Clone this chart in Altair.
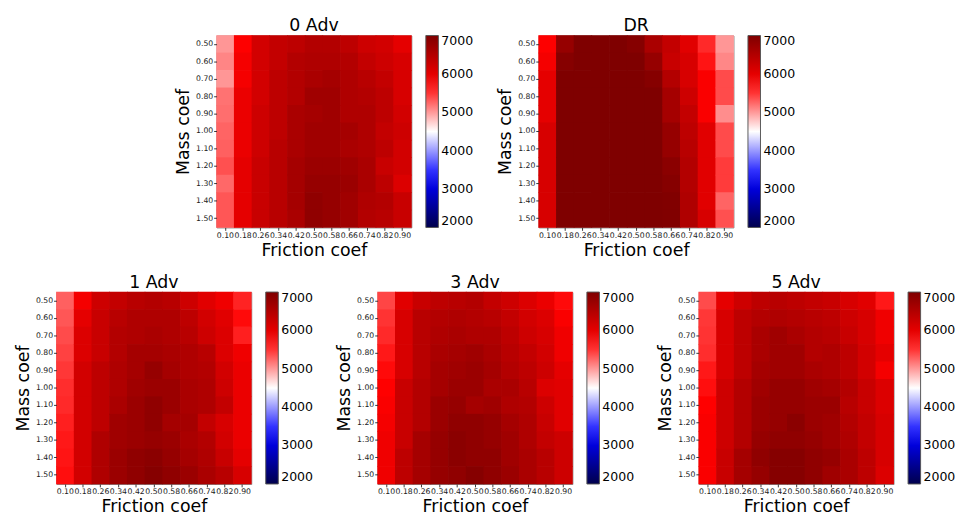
import altair as alt
import pandas as pd

friction = ["0.10", "0.18", "0.26", "0.34", "0.42", "0.50", "0.58", "0.66", "0.74", "0.82", "0.90"]
mass = ["0.50", "0.60", "0.70", "0.80", "0.90", "1.00", "1.10", "1.20", "1.30", "1.40", "1.50"]

# each inner list = one friction column, values from mass 0.50 (top) to 1.50 (bottom)
adv0 = [
    [5015, 5100, 5015, 5190, 5210, 5260, 5280, 5360, 5240, 5330, 5330],
    [5760, 5850, 5850, 5950, 5950, 5950, 5950, 6000, 6000, 6000, 6000],
    [6190, 6190, 6190, 6190, 6240, 6240, 6240, 6290, 6290, 6290, 6290],
    [6340, 6340, 6390, 6390, 6390, 6390, 6440, 6440, 6440, 6440, 6440],
    [6390, 6490, 6490, 6490, 6580, 6580, 6580, 6630, 6630, 6630, 6580],
    [6490, 6530, 6580, 6680, 6630, 6680, 6680, 6730, 6780, 6830, 6830],
    [6490, 6530, 6630, 6680, 6680, 6680, 6680, 6730, 6780, 6780, 6780],
    [6390, 6490, 6530, 6530, 6530, 6630, 6580, 6680, 6730, 6680, 6680],
    [6240, 6340, 6440, 6490, 6530, 6530, 6530, 6580, 6580, 6530, 6490],
    [6190, 6240, 6340, 6390, 6390, 6340, 6390, 6290, 6390, 6490, 6440],
    [6000, 6140, 6140, 6140, 6190, 6240, 6190, 6190, 6090, 6290, 6290],
]
dr = [
    [5760, 5850, 6000, 6000, 6000, 6140, 6140, 6140, 6140, 6140, 6140],
    [6780, 6930, 7000, 7000, 7000, 7000, 7000, 7000, 7000, 7000, 7000],
    [7000, 7000, 7000, 7000, 7000, 7000, 7000, 7000, 7000, 7000, 7000],
    [7000, 7000, 7000, 7000, 7000, 7000, 7000, 7000, 7000, 7000, 7000],
    [7000, 7000, 7000, 7000, 7000, 7000, 7000, 7000, 7000, 7000, 7000],
    [6930, 7000, 7000, 7000, 7000, 7000, 7000, 7000, 7000, 7000, 7000],
    [6580, 6780, 6930, 7000, 7000, 7000, 7000, 7000, 7000, 7000, 7000],
    [6340, 6290, 6490, 6630, 6630, 6780, 6780, 6880, 6930, 6980, 6980],
    [6040, 6140, 6140, 6240, 6340, 6390, 6440, 6490, 6490, 6530, 6530],
    [5550, 5650, 5800, 5800, 5800, 6040, 6040, 6040, 6040, 6040, 6140],
    [5015, 5090, 5380, 5380, 5060, 5380, 5380, 5460, 5460, 5260, 5360],
]
adv1 = [
    [5280, 5330, 5380, 5430, 5480, 5530, 5550, 5600, 5630, 5650, 5680],
    [5850, 6000, 6090, 6090, 6190, 6190, 6190, 6190, 6190, 6190, 6190],
    [6240, 6290, 6290, 6290, 6390, 6390, 6390, 6390, 6530, 6530, 6530],
    [6340, 6440, 6490, 6490, 6530, 6530, 6580, 6680, 6680, 6730, 6730],
    [6440, 6530, 6530, 6630, 6630, 6680, 6730, 6730, 6730, 6830, 6830],
    [6490, 6530, 6580, 6630, 6780, 6730, 6830, 6830, 6780, 6880, 6930],
    [6440, 6530, 6530, 6580, 6630, 6730, 6730, 6630, 6730, 6780, 6830],
    [6240, 6390, 6440, 6530, 6530, 6580, 6580, 6630, 6580, 6630, 6730],
    [6040, 6190, 6240, 6440, 6490, 6530, 6530, 6340, 6490, 6530, 6580],
    [5900, 6040, 6090, 6090, 6190, 6240, 6340, 6140, 6190, 6290, 6440],
    [5580, 5700, 5600, 5900, 5950, 5950, 5950, 5950, 5950, 6000, 6140],
]
adv3 = [
    [5410, 5500, 5550, 5630, 5700, 5750, 5800, 5850, 5900, 5900, 5900],
    [6040, 6140, 6140, 6140, 6140, 6290, 6290, 6290, 6290, 6390, 6390],
    [6290, 6440, 6440, 6440, 6440, 6490, 6490, 6490, 6630, 6630, 6630],
    [6390, 6490, 6530, 6580, 6630, 6630, 6730, 6730, 6780, 6780, 6780],
    [6440, 6530, 6580, 6630, 6680, 6730, 6780, 6830, 6880, 6880, 6830],
    [6490, 6490, 6530, 6680, 6730, 6730, 6630, 6830, 6830, 6830, 6930],
    [6340, 6440, 6530, 6580, 6630, 6580, 6680, 6780, 6780, 6830, 6830],
    [6240, 6340, 6390, 6440, 6490, 6580, 6530, 6630, 6680, 6680, 6730],
    [6090, 6190, 6240, 6340, 6390, 6440, 6490, 6530, 6530, 6580, 6580],
    [5950, 6090, 6140, 6190, 6240, 6090, 6240, 6290, 6340, 6440, 6440],
    [5700, 5800, 5900, 5900, 6000, 6040, 6040, 6040, 6240, 6240, 6240],
]
adv5 = [
    [5380, 5480, 5500, 5530, 5630, 5680, 5750, 5800, 5800, 5800, 5800],
    [6000, 6140, 6140, 6140, 6140, 6240, 6240, 6240, 6240, 6290, 6290],
    [6240, 6390, 6390, 6390, 6390, 6490, 6490, 6490, 6490, 6630, 6630],
    [6390, 6490, 6580, 6580, 6630, 6680, 6730, 6730, 6780, 6830, 6780],
    [6440, 6530, 6680, 6680, 6680, 6780, 6780, 6780, 6830, 6930, 6930],
    [6390, 6490, 6580, 6680, 6680, 6780, 6780, 6880, 6830, 6930, 6930],
    [6340, 6440, 6490, 6490, 6580, 6680, 6730, 6730, 6780, 6830, 6830],
    [6290, 6390, 6440, 6530, 6530, 6630, 6730, 6680, 6680, 6780, 6680],
    [6140, 6240, 6290, 6390, 6390, 6490, 6440, 6490, 6530, 6580, 6580],
    [6040, 6140, 6140, 6190, 6190, 6290, 6290, 6340, 6340, 6390, 6390],
    [5630, 5900, 5900, 6000, 5850, 6090, 6090, 6140, 6140, 6140, 6090],
]

cbar_ticks = [2000, 3000, 4000, 5000, 6000, 7000]
# matplotlib "seismic" colormap anchors
seis_domain = [2000, 3250, 4500, 5750, 7000]
seis_range = ["#00004c", "#0000ff", "#ffffff", "#ff0000", "#7f0000"]

FONT = "DejaVu Sans"


def panel(title, cols):
    rows = []
    for i, f in enumerate(friction):
        for j, m in enumerate(mass):
            rows.append({"friction": f, "mass": m, "value": cols[i][j]})
    df = pd.DataFrame(rows)
    scale = alt.Scale(domain=seis_domain, range=seis_range, interpolate="rgb")
    return (
        alt.Chart(df, title=alt.Title(title, fontSize=18, fontWeight="normal", font=FONT,
                                      offset=0, anchor="middle", color="black"))
        .mark_rect(width=alt.RelativeBandSize(1.04), height=alt.RelativeBandSize(1.04))
        .encode(
            x=alt.X("friction:O", sort=friction, title="Friction coef",
                    scale=alt.Scale(paddingInner=0, paddingOuter=0),
                    axis=alt.Axis(labelAngle=0, labelOverlap=False)),
            y=alt.Y("mass:O", sort=mass, title="Mass coef",
                    scale=alt.Scale(paddingInner=0, paddingOuter=0),
                    axis=alt.Axis(labelOverlap=False)),
            color=alt.Color("value:Q", scale=scale,
                            legend=alt.Legend(type="gradient", title=None, values=cbar_ticks,
                                              format="d",
                                              gradientLength=199, gradientThickness=13,
                                              offset=15, labelFontSize=13,
                                              labelFont=FONT, labelColor="black",
                                              labelBaseline="middle",
                                              labelOffset=3,
                                              gradientStrokeColor="#555",
                                              gradientStrokeWidth=1)),
        )
        .properties(width=202, height=199)
    )


top = alt.hconcat(panel("0 Adv", adv0), panel("DR", dr), spacing=22) \
    .resolve_scale(color="independent").resolve_legend(color="independent")
bottom = alt.hconcat(panel("1 Adv", adv1), panel("3 Adv", adv3), panel("5 Adv", adv5),
                     spacing=21) \
    .resolve_scale(color="independent").resolve_legend(color="independent")

chart = (
    alt.vconcat(top, bottom, spacing=14, center=True)
    .resolve_scale(color="independent")
    .resolve_legend(color="independent")
    .properties(padding={"left": 6, "top": 0, "right": 0, "bottom": 0})
    .configure_view(stroke="#888888", strokeWidth=1)
    .configure_axis(labelFont=FONT, titleFont=FONT, labelFontSize=8, titleFontSize=18,
                    titleFontWeight="normal", labelColor="#222222", titleColor="black",
                    domain=False, tickColor="#333333", tickSize=3, labelPadding=1,
                    titlePadding=3, grid=False)
)

chart.save("out.html", embed_options={"renderer": "svg", "actions": False})
